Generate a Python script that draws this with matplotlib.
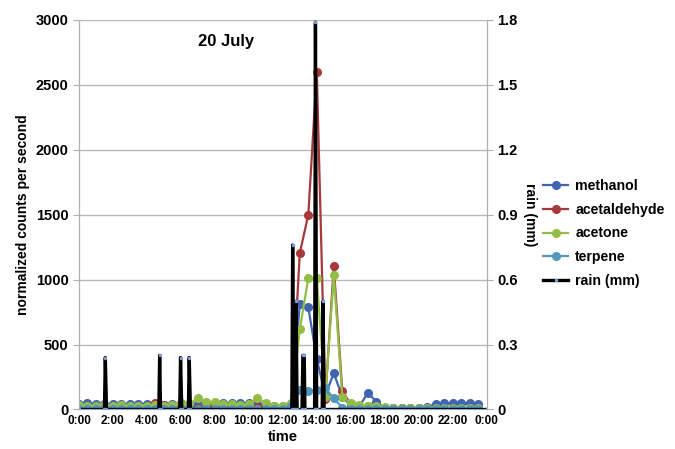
import numpy as np
import matplotlib.pyplot as plt

plt.rcParams['font.family'] = ['Liberation Sans', 'DejaVu Sans']
plt.rcParams['font.weight'] = 'bold'

# half-hourly VOC counts (normalized counts per second), 0:00 .. 23:30
hours = np.arange(48) * 0.5
methanol = [45, 50, 40, 45, 40, 45, 40, 40, 45, 40, 35, 45, 50, 45,
            40, 45, 50, 50, 50, 50, 50, 45, 35, 30, 25, 40,
            813, 787, 387, 110, 279, 100, 30, 20, 130, 60,
            10, 10, 10, 10, 15, 20, 40, 50, 50, 50, 50, 45]
acetaldehyde = [20, 15, 15, 15, 15, 15, 15, 15, 30, 50, 35, 20, 20, 30,
                15, 20, 20, 25, 25, 20, 20, 20, 15, 15, 15, 20,
                1205, 1500, 2600, 80, 1105, 140, 40, 20, 30, 15,
                10, 10, 10, 10, 10, 10, 10, 10, 10, 10, 10, 10]
acetone = [35, 30, 30, 35, 30, 35, 30, 30, 30, 35, 30, 35, 50, 40,
           90, 60, 55, 45, 40, 35, 40, 90, 50, 30, 30, 50,
           620, 1010, 1010, 100, 1035, 100, 50, 35, 30, 30,
           20, 15, 15, 15, 15, 15, 15, 15, 15, 15, 15, 15]
terpene = [3, 3, 3, 3, 3, 3, 3, 3, 3, 3, 3, 3, 3, 3,
           3, 3, 3, 3, 3, 3, 3, 3, 3, 3, 3, 30,
           150, 145, 150, 165, 85, 15, 5, 3, 3, 3,
           3, 3, 3, 3, 3, 3, 3, 3, 3, 3, 3, 3]

# rain events (hour, mm), zero in between
rain_time = [0.0, 1.5, 1.55, 1.62, 4.7, 4.75, 4.8, 5.93, 5.98, 6.05,
             6.44, 6.49, 6.56, 12.53, 12.58, 12.64, 12.72, 12.78, 12.84,
             13.13, 13.18, 13.26, 13.3, 13.87, 13.92, 13.99, 14.32, 14.37,
             14.43, 24.0]
rain_mm = [0, 0, 0.24, 0, 0, 0.25, 0, 0, 0.24, 0,
           0, 0.24, 0, 0, 0.76, 0, 0, 0.5, 0,
           0, 0.25, 0.25, 0, 0, 1.79, 0, 0, 0.5,
           0, 0]

series = [('methanol', methanol, '#3f64b1'),
          ('acetaldehyde', acetaldehyde, '#a8383a'),
          ('acetone', acetone, '#93bd45'),
          ('terpene', terpene, '#5096bd')]

fig = plt.figure(figsize=(6.75, 4.49), dpi=100)
ax = fig.add_axes([0.117, 0.088, 0.604, 0.8675])
ax2 = ax.twinx()

for name, vals, col in series:
    ax.plot(hours, vals, '-o', color=col, lw=1.6, ms=5.5, label=name)

ax2.plot(rain_time, rain_mm, '-o', color='black', lw=2.4, ms=1.5,
         mfc='#7f9fd6', mec='#7f9fd6', label='rain (mm)')

ax.set_xlim(0, 24)
ax.set_ylim(0, 3000)
ax2.set_ylim(0, 1.8)
ax.set_yticks(np.arange(0, 3001, 500))
ax2.set_yticks([0, 0.3, 0.6, 0.9, 1.2, 1.5, 1.8])
ax2.set_yticklabels(['0', '0.3', '0.6', '0.9', '1.2', '1.5', '1.8'])
ax.set_xticks(np.arange(0, 25, 2))
ax.set_xticklabels(['%d:00' % (h % 24) for h in range(0, 25, 2)])

ax.grid(axis='y', color='#b8b8b8', lw=1)
ax.set_axisbelow(True)
for a in (ax, ax2):
    a.spines['top'].set_visible(False)
    a.spines['left'].set_color('#b0b0b0')
    a.spines['right'].set_color('#b0b0b0')
    a.spines['bottom'].set_color('#8fa8d8')
    a.tick_params(axis='y', colors='#b0b0b0', labelcolor='black',
                  labelsize=10.5, length=4)
ax.tick_params(axis='x', length=0, labelsize=8.5, pad=4)

ax.set_ylabel('normalized counts per second', fontsize=10, fontweight='bold')
ax2.set_ylabel('rain (mm)', fontsize=10, fontweight='bold', rotation=270,
               labelpad=14)
ax.set_xlabel('time', fontsize=10.5, fontweight='bold', labelpad=2)
ax.text(0.36, 0.965, '20 July', transform=ax.transAxes, fontsize=12,
        fontweight='bold', ha='center', va='top')

h1, l1 = ax.get_legend_handles_labels()
h2, l2 = ax2.get_legend_handles_labels()
fig.legend(h1 + h2, l1 + l2, loc='center left', bbox_to_anchor=(0.805, 0.48),
           frameon=False, fontsize=10.2, handlelength=1.75, labelspacing=0.7,
           handletextpad=0.5, borderpad=0, borderaxespad=0)

fig.savefig('out.png', dpi=100)
